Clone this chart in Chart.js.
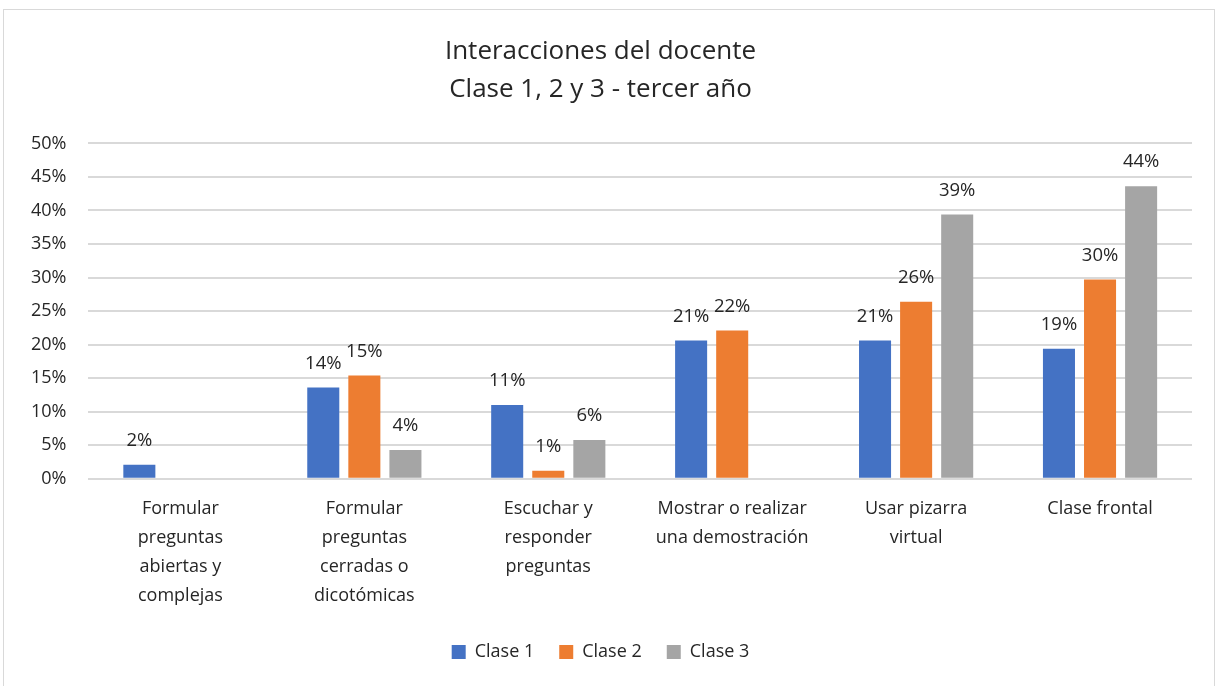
<!DOCTYPE html>
<html>
<head>
<meta charset="utf-8">
<script src="https://cdn.jsdelivr.net/npm/chart.js@4.4.0/dist/chart.umd.min.js"></script>
<style>
  html, body { margin: 0; padding: 0; background: #fff; }
  #wrap { position: absolute; left: 3px; top: 9px; width: 1210px; height: 676px; border: 1px solid #d9d9d9; border-bottom: none; }
</style>
</head>
<body>
<div id="wrap"><canvas id="chart"></canvas></div>
<script>
const categories = [
  ['Formular', 'preguntas', 'abiertas y', 'complejas'],
  ['Formular', 'preguntas', 'cerradas o', 'dicotómicas'],
  ['Escuchar y', 'responder', 'preguntas'],
  ['Mostrar o realizar', 'una demostración'],
  ['Usar pizarra', 'virtual'],
  ['Clase frontal']
];
const clase1 = [2.1, 13.6, 11.0, 20.6, 20.6, 19.4];
const clase2 = [0, 15.4, 1.2, 22.1, 26.4, 29.7];
const clase3 = [0, 4.3, 5.8, 0, 39.4, 43.6];
const titleLines = ['Interacciones del docente', 'Clase 1, 2 y 3 - tercer año'];

const FONT = "'Open Sans', 'Liberation Sans', sans-serif";

// etiquetas de valor encima de cada barra
const valueLabels = {
  id: 'valueLabels',
  afterDatasetsDraw(chart) {
    const ctx = chart.ctx;
    ctx.save();
    ctx.font = '18.5px ' + FONT;
    ctx.fillStyle = '#262626';
    ctx.textAlign = 'center';
    ctx.textBaseline = 'bottom';
    chart.data.datasets.forEach((ds, i) => {
      const meta = chart.getDatasetMeta(i);
      meta.data.forEach((bar, j) => {
        const v = ds.data[j];
        if (!v) return;
        ctx.fillText(Math.round(v) + '%', bar.x, bar.y - 15);
      });
    });
    ctx.restore();
  }
};

const ctx = document.getElementById('chart').getContext('2d');
new Chart(ctx, {
  type: 'bar',
  data: {
    labels: categories,
    datasets: [
      { label: 'Clase 1', data: clase1, backgroundColor: '#4472c4' },
      { label: 'Clase 2', data: clase2, backgroundColor: '#ed7d31' },
      { label: 'Clase 3', data: clase3, backgroundColor: '#a5a5a5' }
    ]
  },
  options: {
    responsive: true,
    maintainAspectRatio: false,
    animation: false,
    datasets: { bar: { categoryPercentage: 0.67, barPercentage: 0.78 } },
    layout: { padding: { left: 5, right: 22, top: 0, bottom: 15 } },
    plugins: {
      title: {
        display: true,
        text: titleLines,
        color: '#262626',
        font: { family: FONT, size: 26, weight: 'normal', lineHeight: 1.45 },
        padding: { top: 23, bottom: 35 }
      },
      legend: {
        position: 'bottom',
        labels: {
          color: '#262626',
          font: { family: FONT, size: 18 },
          boxWidth: 14,
          boxHeight: 14,
          padding: 25
        }
      },
      tooltip: { enabled: false }
    },
    scales: {
      x: {
        grid: { display: false },
        border: { display: false },
        ticks: {
          color: '#262626',
          font: { family: FONT, size: 18, lineHeight: 1.6 },
          maxRotation: 0,
          autoSkip: false,
          padding: 8
        }
      },
      y: {
        min: 0,
        max: 50,
        grid: { color: '#d9d9d9', lineWidth: 2, drawTicks: false },
        border: { display: false },
        ticks: {
          stepSize: 5,
          color: '#262626',
          font: { family: FONT, size: 18 },
          padding: 22,
          callback: v => v + '%'
        }
      }
    }
  },
  plugins: [valueLabels]
});
</script>
</body>
</html>
